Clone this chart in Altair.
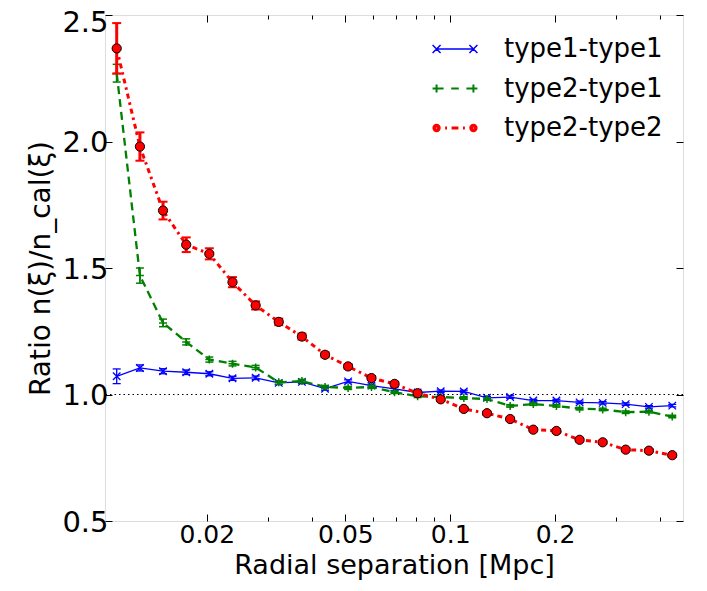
import altair as alt
import pandas as pd

names = ["type1-type1", "type2-type1", "type2-type2"]
colors = ["#0000ff", "#008000", "#ff0000"]

sep = [0.01102, 0.01285, 0.01497, 0.01745, 0.02033, 0.0237, 0.02762, 0.03218,
       0.0375, 0.0437, 0.0509, 0.0594, 0.0692, 0.0806, 0.0939, 0.1094, 0.1275,
       0.1486, 0.1732, 0.2018, 0.2352, 0.274, 0.319, 0.372, 0.434]

r11 = [1.072, 1.105, 1.092, 1.088, 1.082, 1.064, 1.066, 1.046, 1.050, 1.023,
       1.052, 1.035, 1.022, 1.008, 1.013, 1.012, 0.987, 0.990, 0.976, 0.976,
       0.969, 0.967, 0.962, 0.951, 0.956]
e11 = [0.029, 0.012, 0.010, 0.009, 0.008, 0.008, 0.007, 0.007, 0.007, 0.006,
       0.006, 0.006, 0.006, 0.006, 0.005, 0.005, 0.005, 0.005, 0.005, 0.005,
       0.005, 0.005, 0.005, 0.005, 0.005]

r21 = [2.27, 1.47, 1.283, 1.208, 1.138, 1.122, 1.107, 1.048, 1.053, 1.030,
       1.026, 1.030, 1.009, 0.993, 0.990, 0.986, 0.982, 0.955, 0.962, 0.955,
       0.944, 0.941, 0.930, 0.932, 0.913]
e21 = [0.035, 0.030, 0.015, 0.012, 0.010, 0.009, 0.008, 0.007, 0.007, 0.006,
       0.006, 0.006, 0.005, 0.005, 0.005, 0.005, 0.005, 0.005, 0.005, 0.005,
       0.005, 0.005, 0.005, 0.005, 0.005]

r22 = [2.368, 1.98, 1.727, 1.592, 1.556, 1.444, 1.352, 1.287, 1.229, 1.157,
       1.111, 1.065, 1.042, 1.005, 0.981, 0.943, 0.926, 0.903, 0.861, 0.856,
       0.821, 0.811, 0.782, 0.778, 0.760]
e22 = [0.100, 0.056, 0.035, 0.029, 0.022, 0.020, 0.016, 0.013, 0.012, 0.010,
       0.009, 0.008, 0.008, 0.007, 0.007, 0.006, 0.006, 0.006, 0.006, 0.006,
       0.006, 0.006, 0.006, 0.006, 0.006]

x_major = [0.02, 0.05, 0.1, 0.2]
x_ticks = [0.02, 0.03, 0.04, 0.05, 0.06, 0.07, 0.08, 0.09, 0.1, 0.2, 0.3, 0.4]
y_ticks = [0.5, 1.0, 1.5, 2.0, 2.5]
x_domain = [0.0102, 0.466]
y_domain = [0.5, 2.5]
ref_level = [1.0]

rows = []
for name, vals, errs in zip(names, [r11, r21, r22], [e11, e21, e22]):
    for x, v, e in zip(sep, vals, errs):
        rows.append({"sep": x, "ratio": v, "lo": v - e, "hi": v + e, "series": name})
df = pd.DataFrame(rows)

FONT = "DejaVu Sans"
xs = alt.Scale(type="log", domain=x_domain, nice=False)
ys = alt.Scale(domain=y_domain, nice=False, zero=False)

major_test = "indexof([" + ",".join(str(v) for v in x_major) + "], datum.value) >= 0"
x_tick_size = {"condition": {"test": major_test, "value": -7}, "value": -4}
y_tick_size = {"condition": {"test": "true", "value": -7}, "value": -7}

x_bottom = alt.Axis(
    orient="bottom", values=x_ticks,
    labelExpr=major_test + " ? format(datum.value, '~g') : ''",
    tickSize=x_tick_size, tickColor="black", tickWidth=1, domain=False, grid=False,
    labelPadding=8, labelFontSize=25, labelFont=FONT, labelColor="black",
    labelOverlap=False, labelFlush=False, labelBound=False,
    title="Radial separation [Mpc]", titleFontSize=27, titleFont=FONT,
    titleFontWeight="normal", titleColor="black", titlePadding=2,
)
x_top = alt.Axis(
    orient="top", values=x_ticks, labels=False, tickSize=x_tick_size,
    tickColor="black", tickWidth=1, domain=False, grid=False, title=None,
)
y_left = alt.Axis(
    orient="left", values=y_ticks, format=".1f", tickSize=y_tick_size,
    tickColor="black", tickWidth=1, domain=False, grid=False,
    labelPadding=4, labelFontSize=29, labelFont=FONT, labelColor="black",
    labelFlush=False, labelBound=False,
    labelOffset={"condition": {"test": "datum.value >= 2.5", "value": 7}, "value": 1},
    title="Ratio n(ξ)/n_cal(ξ)", titleFontSize=28, titleFont=FONT,
    titleFontWeight="normal", titleColor="black", titlePadding=6,
)
y_right = alt.Axis(
    orient="right", values=y_ticks, labels=False, tickSize=y_tick_size,
    tickColor="black", tickWidth=1, domain=False, grid=False, title=None,
)

# legend symbols (unit = half of sqrt(symbolSize))
u = 0.97
m = 0.21
p_blue = (f"M{-u},0L{u},0 "
          f"M{-u-m},{-m}L{-u+m},{m} M{-u-m},{m}L{-u+m},{-m} "
          f"M{u-m},{-m}L{u+m},{m} M{u-m},{m}L{u+m},{-m}")
p_green = (f"M{-u},0L-0.6,0 M-0.2,0L0.2,0 M0.6,0L{u},0 "
           f"M{-u-m},0L{-u+m},0 M{-u},{-m}L{-u},{m} "
           f"M{u-m},0L{u+m},0 M{u},{-m}L{u},{m}")


def ring(cx, r):
    return f"M{cx + r},0A{r},{r} 0 1,1 {cx - r},0A{r},{r} 0 1,1 {cx + r},0"


p_red = (ring(-u, 0.14) + ring(-u, 0.05) + ring(u, 0.14) + ring(u, 0.05) +
         "M-0.52,0L-0.42,0 M-0.18,0L0.18,0 M0.42,0L0.52,0")

sym_expr = (f"datum.value === '{names[0]}' ? '{p_blue}' : "
            f"datum.value === '{names[1]}' ? '{p_green}' : '{p_red}'")
sw_expr = (f"datum.value === '{names[0]}' ? 1.5 : "
           f"datum.value === '{names[1]}' ? 2 : 3")

legend = alt.Legend(
    orient="none", legendX=337, legendY=21, title=None, padding=0,
    symbolType=alt.ExprRef(sym_expr), symbolSize=1444,
    symbolStrokeWidth=alt.ExprRef(sw_expr), symbolOpacity=1,
    labelFontSize=26, labelFont=FONT, labelColor="black", labelOffset=36,
    rowPadding=13.5, labelLimit=400,
)
color_enc_scale = alt.Scale(domain=names, range=colors)

line_styles = [
    dict(strokeWidth=1.3),
    dict(strokeWidth=2.3, strokeDash=[8, 5]),
    dict(strokeWidth=3, strokeDash=[5, 4, 2.5, 4]),
]
err_styles = [(1.3, 8, 1.3), (1.8, 8, 1.5), (3, 9, 2)]


def series_layers(i, x_axis=None, y_axis=None, leg=None):
    base = alt.Chart(df).transform_filter(alt.datum.series == names[i])
    xe = alt.X("sep:Q", scale=xs, axis=None)
    ew, cs, ct = err_styles[i]
    err = base.mark_rule(color=colors[i], strokeWidth=ew).encode(
        x=xe, y=alt.Y("lo:Q", scale=ys, axis=None), y2="hi:Q")
    cap_lo = base.mark_tick(orient="horizontal", color=colors[i], size=cs,
                            thickness=ct, opacity=1).encode(
        x=xe, y=alt.Y("lo:Q", scale=ys, axis=None))
    cap_hi = base.mark_tick(orient="horizontal", color=colors[i], size=cs,
                            thickness=ct, opacity=1).encode(
        x=xe, y=alt.Y("hi:Q", scale=ys, axis=None))
    line = base.mark_line(**line_styles[i]).encode(
        x=alt.X("sep:Q", scale=xs, axis=x_axis),
        y=alt.Y("ratio:Q", scale=ys, axis=y_axis),
        color=alt.Color("series:N", scale=color_enc_scale, legend=leg),
    )
    if i == 0:
        pts = base.mark_point(shape="M-1,-1L1,1M-1,1L1,-1", size=56, filled=False,
                              color=colors[0], strokeWidth=1.3, opacity=1)
    elif i == 1:
        pts = base.mark_point(shape="M-1,0L1,0M0,-1L0,1", size=64, filled=False,
                              color=colors[1], strokeWidth=1.5, opacity=1)
    else:
        pts = base.mark_point(shape="circle", size=85, filled=True, fill=colors[2],
                              stroke="black", strokeWidth=1, opacity=1)
    pts = pts.encode(x=xe, y=alt.Y("ratio:Q", scale=ys, axis=None))
    return [line, err, cap_lo, cap_hi, pts]


rule = alt.Chart(pd.DataFrame({"level": ref_level})).mark_rule(
    color="black", strokeWidth=1, strokeDash=[1.5, 3]).encode(
    y=alt.Y("level:Q", scale=ys, axis=None))

layers = ([rule] + series_layers(0, x_bottom, y_left, legend)
          + series_layers(1, x_top, y_right, None)
          + series_layers(2, None, None, None))

chart = alt.layer(*layers).properties(
    width=578, height=506,
    padding={"left": 97, "top": 7, "right": 16, "bottom": 62},
    autosize=alt.AutoSizeParams(type="none"),
).configure_view(stroke="black", strokeWidth=1.3).configure(font=FONT, background="white")

chart.save("out.html", embed_options={"renderer": "svg", "actions": False})
